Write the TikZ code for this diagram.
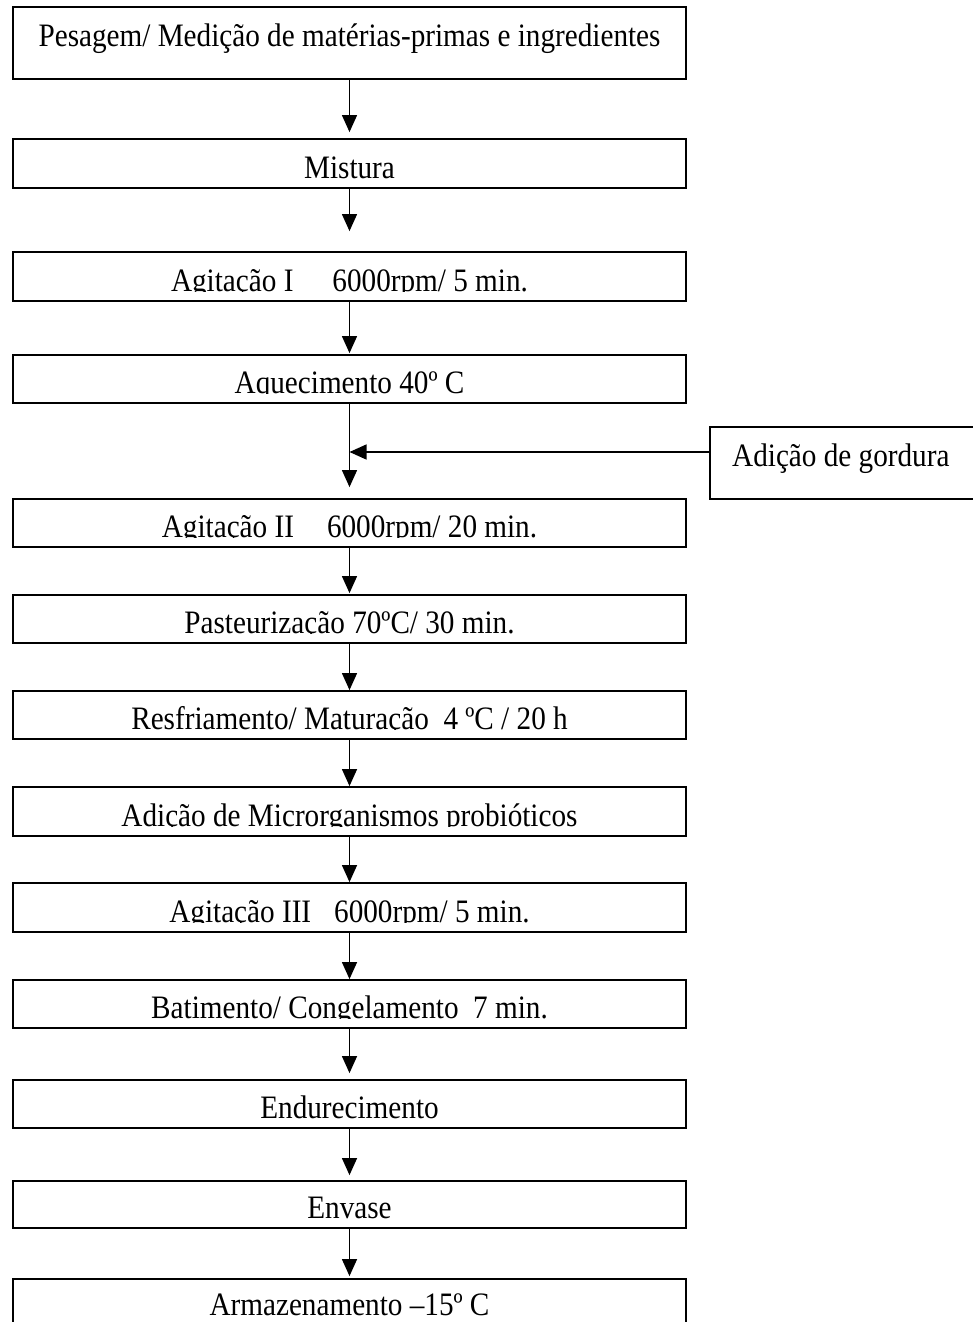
\documentclass[tikz,border=0pt]{standalone}
\usepackage{fontspec}
\setmainfont{Liberation Serif}
\usepackage{graphicx}
\usetikzlibrary{arrows.meta}
\tikzset{
  boxst/.style={draw=black, line width=1.8pt, rectangle, minimum width=673pt, inner sep=0pt},
  lbl/.style={font=\fontsize{29.2}{34}\selectfont, inner sep=0pt, anchor=base},
  arr/.style={draw=black, line width=1.3pt, -{Triangle[length=17pt,width=15pt]}},
}
\newcommand\vstr[1]{\scalebox{1}[1.12]{#1}}
% name, top, bottom, baseline, clip bottom, text
\newcommand\flowbox[6]{%
  \node[boxst, minimum height={#3-#2}] (#1) at (349.5,{(#2+#3)/2}) {};
  \begin{scope}
    \clip (14,{#2+1}) rectangle (685,#5);
    \node[lbl] (#1t) at (349.5,#4) {\vstr{#6}};
  \end{scope}}
\begin{document}
\begin{tikzpicture}[x=1pt,y=-1pt]
\useasboundingbox (0,0) rectangle (973,1322);
\clip (0,0) rectangle (973,1322);
\flowbox{b1}{7}{79}{47}{78}{Pesagem/ Medição de matérias-primas e ingredientes}
\flowbox{b2}{139}{188}{178}{179}{Mistura}
\flowbox{b3}{252}{301}{291}{291.8}{Agitação I\hspace{39pt}6000rpm/ 5 min.}
\flowbox{b4}{355}{403}{393}{393.8}{Aquecimento 40º C}
\flowbox{b6}{499}{547}{537}{537.8}{Agitação II\hspace{33pt}6000rpm/ 20 min.}
\flowbox{b7}{595}{643}{633}{633.8}{Pasteurização 70ºC/ 30 min.}
\flowbox{b8}{691}{739}{729}{729.8}{Resfriamento/ Maturação\ \ 4 ºC / 20 h}
\flowbox{b9}{787}{836}{826}{826.8}{Adição de Microrganismos probióticos}
\flowbox{b10}{883}{932}{922}{922.8}{Agitação III\hspace{23pt}6000rpm/ 5 min.}
\flowbox{b11}{980}{1028}{1018}{1018.8}{Batimento/ Congelamento\ \ 7 min.}
\flowbox{b12}{1080}{1128}{1118}{1119}{Endurecimento}
\flowbox{b13}{1181}{1228}{1218}{1219}{Envase}
\flowbox{b14}{1279}{1345}{1315}{1320}{Armazenamento –15º C}
% side box
\node[boxst, minimum width=285pt, minimum height=72pt] (gord) at (852.5,463) {};
\node[lbl, anchor=base west] (gordt) at (732,466) {\vstr{Adição de gordura}};
% connectors
\draw[arr, shorten >=6pt] (b1.south) -- (b2.north);
\draw[arr, shorten >=20pt] (b2.south) -- (b3.north);
\draw[arr, shorten >=1pt] (b3.south) -- (b4.north);
\draw[arr, shorten >=11pt] (b4.south) -- (b6.north);
\coordinate (jn) at (349.5,452);
\draw[arr] (gord.west |- jn) -- (jn);
\draw[arr, shorten >=1pt] (b6.south) -- (b7.north);
\draw[arr] (b7.south) -- (b8.north);
\draw[arr] (b8.south) -- (b9.north);
\draw[arr] (b9.south) -- (b10.north);
\draw[arr] (b10.south) -- (b11.north);
\draw[arr, shorten >=6pt] (b11.south) -- (b12.north);
\draw[arr, shorten >=5pt] (b12.south) -- (b13.north);
\draw[arr, shorten >=2pt] (b13.south) -- (b14.north);
\end{tikzpicture}
\end{document}
